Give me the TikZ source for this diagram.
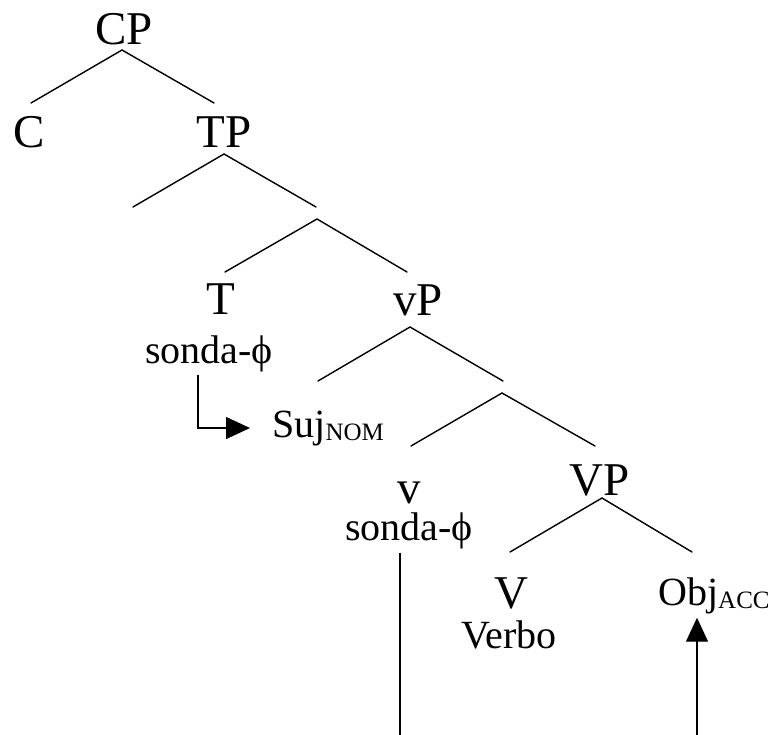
\documentclass[tikz,border=0pt]{standalone}
\usepackage{fontspec}
\setmainfont{Liberation Serif}
\usetikzlibrary{arrows.meta}
\tikzset{
  big/.style={inner sep=0pt, anchor=base, font=\fontsize{47}{50}\selectfont},
  small/.style={inner sep=0pt, anchor=base, font=\fontsize{40}{44}\selectfont},
  smallw/.style={inner sep=0pt, anchor=base west, font=\fontsize{40}{44}\selectfont},
  branch/.style={line width=1.4pt, line cap=round},
  arr/.style={line width=1.4pt, -{Triangle[length=24pt,width=22pt]}},
  plain/.style={line width=1.4pt}
}
\newcommand{\subsc}[1]{\raisebox{-3pt}{\fontsize{25}{30}\selectfont #1}}
\begin{document}
\begin{tikzpicture}[x=1pt,y=-1pt]
\useasboundingbox (0,0) rectangle (773,735);
% labels
\node[big] (CP) at (124,45) {CP};
\node[big] (C) at (29,148) {C};
\node[big] (TP) at (224,148) {TP};
\node[big] (T) at (221,314) {T};
\node[big] (vP) at (418,315) {vP};
\node[small] (sT) at (209,363) {sonda-ϕ};
\node[smallw] (suj) at (272,437) {Suj\subsc{NOM}};
\node[big] (v) at (409,503) {v};
\node[small] (sv) at (409,540) {sonda-ϕ};
\node[big] (VP) at (600,495) {VP};
\node[big] (V) at (511,608) {V};
\node[small] (verbo) at (509,648) {Verbo};
\node[smallw] (obj) at (658,605) {Obj\subsc{ACC}};
% branch coordinates
\coordinate (a1) at (122,50);  \coordinate (l1) at (31,103);  \coordinate (r1) at (214,103);
\coordinate (a2) at (224,154); \coordinate (l2) at (133,207); \coordinate (r2) at (316,207);
\coordinate (a3) at (317,219); \coordinate (l3) at (225,272); \coordinate (r3) at (407,272);
\coordinate (a4) at (410,327); \coordinate (l4) at (318,381); \coordinate (r4) at (503,381);
\coordinate (a5) at (502,393); \coordinate (l5) at (411,446); \coordinate (r5) at (595,446);
\coordinate (a6) at (602,498); \coordinate (l6) at (510,552); \coordinate (r6) at (692,552);
\foreach \i in {1,...,6} {
  \draw[branch] (l\i) -- (a\i) -- (r\i);
}
% arrows
\draw[arr] ([xshift=-11pt,yshift=-3pt]sT.south) |- ([xshift=-22pt]suj.west);
\coordinate (b1) at (400,735);
\coordinate (b2) at (697,735);
\draw[plain] ([yshift=-4pt]sv.south -| b1) -- (b1);
\draw[arr] (b2) -- ([yshift=-4pt]obj.south -| b2);
\end{tikzpicture}
\end{document}
